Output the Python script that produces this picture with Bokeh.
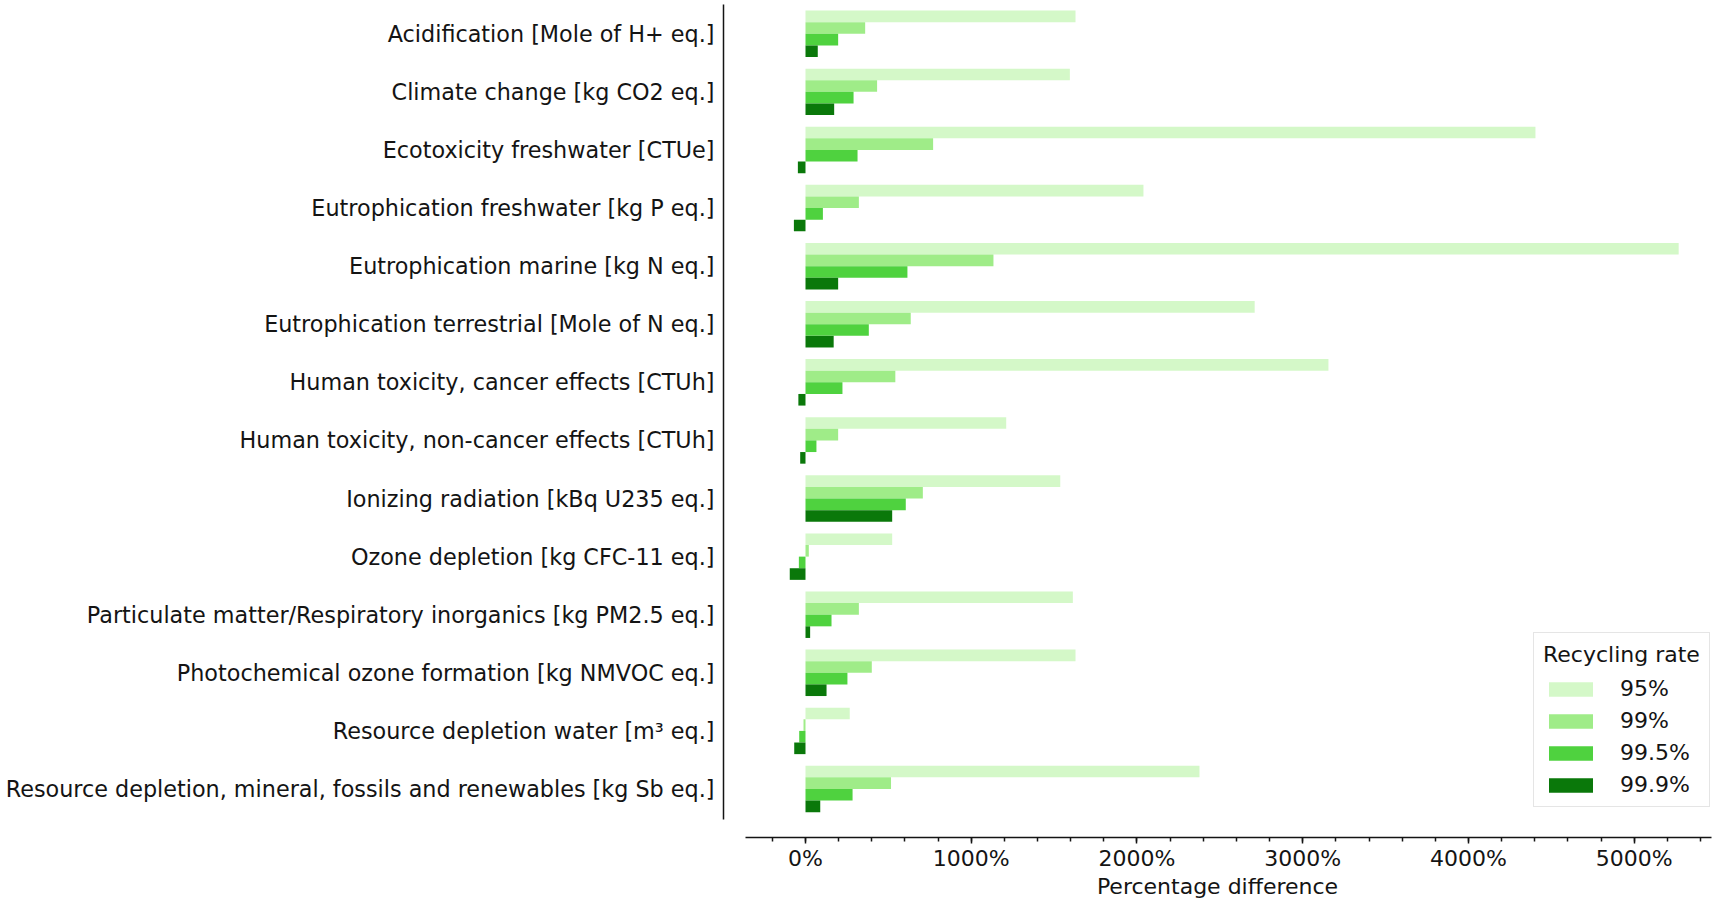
from bokeh.plotting import figure
from bokeh.models import Range1d, FixedTicker, Legend, LegendItem, LinearAxis
from bokeh.embed import file_html
from bokeh.resources import INLINE

categories = [
    "Acidification [Mole of H+ eq.]",
    "Climate change [kg CO2 eq.]",
    "Ecotoxicity freshwater [CTUe]",
    "Eutrophication freshwater [kg P eq.]",
    "Eutrophication marine [kg N eq.]",
    "Eutrophication terrestrial [Mole of N eq.]",
    "Human toxicity, cancer effects [CTUh]",
    "Human toxicity, non-cancer effects [CTUh]",
    "Ionizing radiation [kBq U235 eq.]",
    "Ozone depletion [kg CFC-11 eq.]",
    "Particulate matter/Respiratory inorganics [kg PM2.5 eq.]",
    "Photochemical ozone formation [kg NMVOC eq.]",
    "Resource depletion water [m³ eq.]",
    "Resource depletion, mineral, fossils and renewables [kg Sb eq.]",
]
rates = ["95%", "99%", "99.5%", "99.9%"]
v95 = [1629, 1595, 4404, 2039, 5268, 2710, 3155, 1211, 1537, 523, 1613, 1629, 267, 2377]
v99 = [360, 432, 770, 322, 1134, 635, 542, 197, 708, 20, 322, 400, -12, 516]
v995 = [197, 290, 314, 105, 615, 382, 223, 66, 605, -40, 157, 253, -38, 284]
v999 = [74, 173, -46, -70, 197, 170, -43, -32, 523, -95, 28, 127, -68, 89]
series = [v95, v99, v995, v999]
colors = ["#d4f8c8", "#9fec88", "#4fd23f", "#0a780a"]

major_ticks = [0, 1000, 2000, 3000, 4000, 5000]
major_labels = ["0%", "1000%", "2000%", "3000%", "4000%", "5000%"]
minor_ticks = list(range(-200, 5600, 200))

FONT = "DejaVu Sans"
TXT = "#141414"

p = figure(width=1712, height=901, output_backend="svg", toolbar_location=None,
           x_range=Range1d(-494.7, 5466.1), y_range=Range1d(13.835, -0.504),
           min_border_left=723, min_border_right=1, min_border_top=4, min_border_bottom=62,
           x_axis_type=None, y_axis_type=None)
p.outline_line_color = None
p.background_fill_color = "white"
p.border_fill_color = "white"

xax = LinearAxis(ticker=FixedTicker(ticks=major_ticks, minor_ticks=minor_ticks),
                 bounds=(-362, 5466))
xax.major_label_overrides = {t: l for t, l in zip(major_ticks, major_labels)}
xax.axis_label = "Percentage difference"
xax.axis_label_text_font = FONT
xax.axis_label_text_font_size = "22px"
xax.axis_label_text_font_style = "normal"
xax.axis_label_text_color = TXT
xax.axis_label_standoff = 0
xax.major_label_text_font = FONT
xax.major_label_text_font_size = "22px"
xax.major_label_text_color = TXT
xax.major_label_standoff = 2
xax.axis_line_width = 1.5
xax.axis_line_color = TXT
xax.major_tick_line_width = 1.5
xax.major_tick_line_color = TXT
xax.minor_tick_line_width = 1.5
xax.minor_tick_line_color = TXT
xax.major_tick_in = 0
xax.major_tick_out = 6
xax.minor_tick_in = 0
xax.minor_tick_out = 4
p.add_layout(xax, "below")

yax = LinearAxis(ticker=FixedTicker(ticks=list(range(len(categories))), minor_ticks=[]),
                 bounds=(-0.504, 13.526))
yax.major_label_overrides = {i: c for i, c in enumerate(categories)}
yax.major_label_text_font = FONT
yax.major_label_text_font_size = "22.3px"
yax.major_label_text_color = TXT
yax.major_label_standoff = 9
yax.major_tick_in = 0
yax.major_tick_out = 0
yax.minor_tick_in = 0
yax.minor_tick_out = 0
yax.axis_line_width = 1.5
yax.axis_line_color = TXT
p.add_layout(yax, "left")

p.xgrid.visible = False
p.ygrid.visible = False

offsets = [-0.3, -0.1, 0.1, 0.3]
items = []
for rate, vals, col, off in zip(rates, series, colors, offsets):
    ys = [i + off for i in range(len(categories))]
    r = p.hbar(y=ys, left=0, right=vals, height=0.2, fill_color=col, line_color=None)
    items.append(LegendItem(label=rate, renderers=[r]))

legend = Legend(items=items, location=(810, 30), title="Recycling rate")
legend.title_text_font = FONT
legend.title_text_font_size = "22px"
legend.title_text_font_style = "normal"
legend.title_text_color = TXT
legend.title_standoff = 9
legend.label_text_font = FONT
legend.label_text_font_size = "22px"
legend.label_text_color = TXT
legend.label_standoff = 22
legend.label_height = 22
legend.glyph_width = 55
legend.glyph_height = 18
legend.spacing = 7
legend.padding = 9
legend.margin = 0
legend.border_line_color = "#cccccc"
legend.border_line_width = 1.5
legend.background_fill_color = "white"
legend.background_fill_alpha = 0.9
p.add_layout(legend, "center")

open("out.html", "w").write(file_html(p, INLINE))
